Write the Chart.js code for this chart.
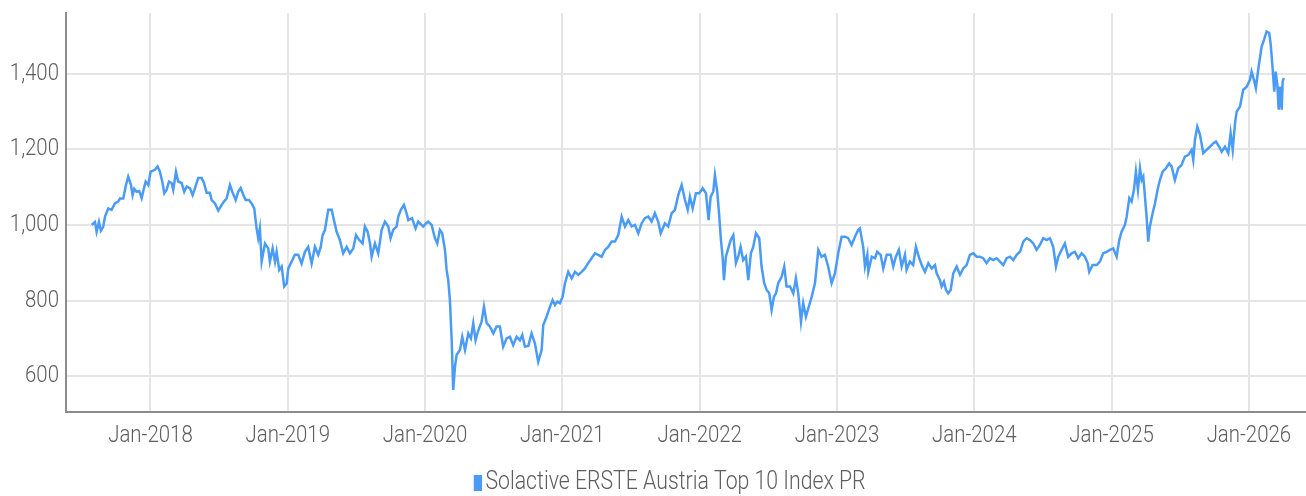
<!DOCTYPE html>
<html>
<head>
<meta charset="utf-8">
<script src="https://cdn.jsdelivr.net/npm/chart.js@4"></script>
<style>
  html, body { margin: 0; padding: 0; background: #ffffff; }
  #wrap { width: 1306px; height: 496px; position: relative; }
</style>
</head>
<body>
<div id="wrap"><canvas id="c"></canvas></div>
<script>
// Dates as decimal years
const years = [
2017.572,2017.596,2017.608,2017.625,2017.639,2017.656,2017.669,2017.693,2017.717,2017.741,
2017.765,2017.778,2017.802,2017.822,2017.838,2017.858,2017.870,2017.882,2017.899,2017.918,
2017.936,2017.953,2017.965,2017.984,2018.001,2018.033,2018.052,2018.069,2018.086,2018.101,
2018.118,2018.135,2018.154,2018.166,2018.186,2018.202,2018.227,2018.246,2018.264,2018.288,
2018.307,2018.324,2018.348,2018.373,2018.390,2018.409,2018.433,2018.446,2018.470,2018.494,
2018.519,2018.535,2018.555,2018.579,2018.596,2018.621,2018.639,2018.657,2018.676,2018.693,
2018.717,2018.737,2018.756,2018.773,2018.785,2018.797,2018.810,2018.834,2018.858,2018.870,
2018.890,2018.907,2018.919,2018.938,2018.956,2018.974,2018.992,2019.004,2019.028,2019.052,
2019.076,2019.101,2019.125,2019.149,2019.174,2019.198,2019.222,2019.240,2019.254,2019.271,
2019.295,2019.320,2019.331,2019.356,2019.380,2019.404,2019.429,2019.453,2019.477,2019.497,
2019.521,2019.545,2019.562,2019.582,2019.599,2019.611,2019.635,2019.659,2019.684,2019.708,
2019.732,2019.749,2019.768,2019.793,2019.805,2019.824,2019.846,2019.866,2019.878,2019.905,
2019.931,2019.950,2019.968,2019.987,2020.006,2020.023,2020.048,2020.072,2020.089,2020.108,
2020.125,2020.145,2020.157,2020.169,2020.181,2020.194,2020.205,2020.218,2020.230,2020.254,
2020.271,2020.291,2020.315,2020.334,2020.351,2020.368,2020.387,2020.412,2020.429,2020.449,
2020.473,2020.497,2020.521,2020.545,2020.569,2020.594,2020.618,2020.642,2020.667,2020.691,
2020.708,2020.727,2020.752,2020.776,2020.800,2020.824,2020.849,2020.861,2020.885,2020.910,
2020.929,2020.946,2020.963,2020.982,2021.002,2021.019,2021.043,2021.068,2021.092,2021.116,
2021.140,2021.164,2021.188,2021.213,2021.237,2021.261,2021.286,2021.310,2021.334,2021.359,
2021.383,2021.407,2021.432,2021.456,2021.480,2021.505,2021.529,2021.553,2021.577,2021.601,
2021.626,2021.650,2021.674,2021.698,2021.716,2021.747,2021.771,2021.796,2021.820,2021.844,
2021.869,2021.893,2021.913,2021.929,2021.949,2021.973,2021.997,2022.022,2022.046,2022.065,
2022.080,2022.099,2022.111,2022.128,2022.143,2022.155,2022.167,2022.177,2022.191,2022.208,
2022.226,2022.245,2022.264,2022.281,2022.298,2022.317,2022.337,2022.354,2022.373,2022.390,
2022.410,2022.434,2022.451,2022.470,2022.488,2022.507,2022.524,2022.541,2022.556,2022.572,
2022.597,2022.616,2022.633,2022.658,2022.682,2022.701,2022.718,2022.738,2022.754,2022.774,
2022.791,2022.816,2022.840,2022.864,2022.888,2022.912,2022.936,2022.961,2022.985,2023.009,
2023.034,2023.058,2023.082,2023.107,2023.131,2023.155,2023.167,2023.191,2023.204,2023.221,
2023.228,2023.253,2023.277,2023.293,2023.318,2023.337,2023.362,2023.391,2023.410,2023.429,
2023.451,2023.471,2023.495,2023.507,2023.531,2023.555,2023.575,2023.599,2023.617,2023.641,
2023.665,2023.690,2023.714,2023.726,2023.750,2023.762,2023.779,2023.794,2023.810,2023.828,
2023.847,2023.872,2023.896,2023.920,2023.944,2023.968,2023.993,2024.017,2024.041,2024.065,
2024.090,2024.114,2024.138,2024.163,2024.187,2024.211,2024.236,2024.260,2024.284,2024.309,
2024.333,2024.357,2024.381,2024.405,2024.430,2024.454,2024.478,2024.502,2024.527,2024.551,
2024.575,2024.595,2024.612,2024.636,2024.660,2024.684,2024.709,2024.733,2024.757,2024.782,
2024.806,2024.826,2024.837,2024.862,2024.891,2024.915,2024.939,2024.964,2024.988,2025.012,
2025.037,2025.056,2025.073,2025.097,2025.110,2025.129,2025.146,2025.163,2025.177,2025.192,
2025.207,2025.219,2025.231,2025.243,2025.255,2025.267,2025.279,2025.299,2025.316,2025.335,
2025.352,2025.372,2025.396,2025.420,2025.437,2025.461,2025.485,2025.510,2025.534,2025.558,
2025.583,2025.595,2025.607,2025.624,2025.644,2025.668,2025.692,2025.716,2025.740,2025.760,
2025.784,2025.802,2025.826,2025.850,2025.867,2025.882,2025.899,2025.911,2025.935,2025.959,
2025.984,2026.008,2026.020,2026.037,2026.051,2026.068,2026.093,2026.110,2026.129,2026.148,
2026.158,2026.170,2026.185,2026.195,2026.207,2026.217,2026.226,2026.239,2026.246,2026.255
];

const indexValues = [
1000,1008,982,1008,985,995,1022,1044,1040,1057,
1062,1070,1070,1106,1128,1106,1079,1096,1088,1090,
1071,1098,1115,1106,1141,1146,1155,1141,1115,1084,
1093,1115,1111,1093,1141,1115,1111,1088,1102,1097,
1079,1097,1124,1124,1111,1085,1085,1066,1057,1038,
1053,1062,1070,1106,1088,1066,1088,1098,1080,1066,
1066,1057,1044,991,965,991,903,951,938,903,
938,903,929,881,890,837,845,885,903,921,
921,898,929,942,898,942,921,942,973,987,
1040,1040,1022,982,960,925,942,925,938,973,
960,951,996,982,951,916,951,925,987,1009,
996,965,987,996,1022,1040,1053,1030,1013,1018,
991,1009,1002,996,1004,1009,1000,965,951,987,
978,934,881,854,801,695,563,625,656,669,
704,669,713,700,740,695,720,744,784,740,
731,713,731,731,678,700,704,682,704,695,
709,678,680,713,687,638,669,735,757,784,
801,788,797,793,810,846,876,859,876,868,
876,885,899,912,925,921,916,934,942,956,
956,973,1022,996,1013,996,1000,978,1004,1018,
1022,1009,1031,1009,978,1004,996,1031,1040,1079,
1106,1066,1040,1075,1044,1084,1084,1097,1084,1013,
1075,1088,1132,1088,1022,960,916,854,916,938,
960,973,899,916,942,907,916,854,925,942,
978,965,890,846,828,819,775,810,819,846,
863,890,837,837,819,859,819,744,793,757,
779,810,846,934,916,921,890,846,872,925,
969,969,965,947,969,987,991,942,890,921,
876,916,912,929,921,885,921,921,890,916,
934,890,921,881,903,894,942,912,894,876,
899,885,894,872,854,837,850,828,819,828,
872,890,868,885,894,921,925,916,916,912,
899,912,907,912,903,894,912,916,907,921,
929,956,965,960,951,934,947,965,960,965,
942,890,916,934,951,916,925,929,912,925,
916,899,876,894,894,903,925,929,934,938,
916,960,982,1000,1022,1071,1062,1093,1141,1093,
1150,1119,1128,1075,1022,956,996,1031,1057,1093,
1119,1141,1150,1163,1155,1119,1150,1159,1181,1185,
1199,1172,1225,1260,1239,1190,1199,1207,1216,1221,
1207,1194,1207,1190,1243,1199,1269,1300,1313,1358,
1366,1384,1406,1384,1362,1411,1472,1490,1512,1508,
1481,1428,1353,1406,1371,1305,1366,1305,1380,1389
];

const seriesName = 'Solactive ERSTE Austria Top 10 Index PR';
const xTickYears = [2018, 2019, 2020, 2021, 2022, 2023, 2024, 2025, 2026];
const yTickValues = [600, 800, 1000, 1200, 1400];

const LINE_COLOR = '#4a9bf6';
const TEXT_COLOR = '#5e5e5e';
const FONT_FAMILY = "Roboto, 'Liberation Sans', sans-serif";
const TEXT_SQUEEZE = 0.85; // emulate the condensed face of the original

Chart.defaults.font.family = FONT_FAMILY;
Chart.defaults.font.size = 24;
Chart.defaults.font.weight = 300;
Chart.defaults.color = TEXT_COLOR;

// Draw text horizontally condensed (still real text via fillText)
const condensedText = {
  id: 'condensedText',
  beforeInit(chart) {
    const ctx = chart.ctx;
    const origFill = ctx.fillText.bind(ctx);
    const origMeasure = ctx.measureText.bind(ctx);
    ctx.fillText = function (text, x, y, maxWidth) {
      ctx.save();
      ctx.translate(x, y);
      ctx.scale(TEXT_SQUEEZE, 1);
      if (maxWidth !== undefined) origFill(text, 0, 0, maxWidth / TEXT_SQUEEZE);
      else origFill(text, 0, 0);
      ctx.restore();
    };
    ctx.measureText = function (text) {
      const m = origMeasure(text);
      return {
        width: m.width * TEXT_SQUEEZE,
        actualBoundingBoxAscent: m.actualBoundingBoxAscent,
        actualBoundingBoxDescent: m.actualBoundingBoxDescent,
        actualBoundingBoxLeft: m.actualBoundingBoxLeft * TEXT_SQUEEZE,
        actualBoundingBoxRight: m.actualBoundingBoxRight * TEXT_SQUEEZE
      };
    };
  }
};

// Legend marker: narrow vertical bar, placed close to the label text
const legendMark = document.createElement('canvas');
legendMark.width = 50;
legendMark.height = 16;
(function () {
  const g = legendMark.getContext('2d');
  g.fillStyle = LINE_COLOR;
  g.fillRect(42, 0, 8, 16);
})();

const points = years.map((y, i) => ({ x: y, y: indexValues[i] }));

new Chart(document.getElementById('c'), {
  type: 'line',
  plugins: [condensedText],
  data: {
    datasets: [{
      label: seriesName,
      data: points,
      borderColor: LINE_COLOR,
      backgroundColor: LINE_COLOR,
      borderWidth: 2.5,
      pointRadius: 0,
      tension: 0,
      fill: false
    }]
  },
  options: {
    responsive: true,
    maintainAspectRatio: false,
    animation: false,
    layout: { padding: { top: 13, right: 0, left: 0, bottom: -9 } },
    plugins: {
      tooltip: { enabled: false },
      legend: {
        position: 'bottom',
        labels: {
          usePointStyle: true,
          pointStyleWidth: 32.5,
          boxHeight: 16,
          padding: 10,
          color: TEXT_COLOR,
          font: { size: 25, weight: 300 },
          generateLabels: (chart) => {
            const items = Chart.defaults.plugins.legend.labels.generateLabels(chart);
            items.forEach(it => { it.lineWidth = 0; it.pointStyle = legendMark; it.fillStyle = LINE_COLOR; });
            return items;
          }
        }
      }
    },
    scales: {
      x: {
        type: 'linear',
        min: 2017.385,
        max: 2026.416,
        afterBuildTicks: (axis) => { axis.ticks = xTickYears.map(v => ({ value: v })); },
        afterFit: (axis) => { axis.height = 48; },
        ticks: {
          padding: 10,
          maxRotation: 0,
          autoSkip: false,
          color: TEXT_COLOR,
          callback: (v) => 'Jan-' + v
        },
        grid: { color: '#e5e5e5', lineWidth: 2, drawTicks: false },
        border: { display: true, color: '#8c8c8c', width: 2 }
      },
      y: {
        type: 'linear',
        min: 505,
        max: 1561,
        afterBuildTicks: (axis) => { axis.ticks = yTickValues.map(v => ({ value: v })); },
        afterFit: (axis) => { axis.width = 66; axis.paddingTop = 0; axis.paddingBottom = 0; },
        ticks: {
          padding: 7,
          color: TEXT_COLOR,
          callback: (v) => v.toLocaleString('en-US')
        },
        grid: { color: '#e5e5e5', lineWidth: 2, drawTicks: false },
        border: { display: true, color: '#8c8c8c', width: 2 }
      }
    }
  }
});
</script>
</body>
</html>
